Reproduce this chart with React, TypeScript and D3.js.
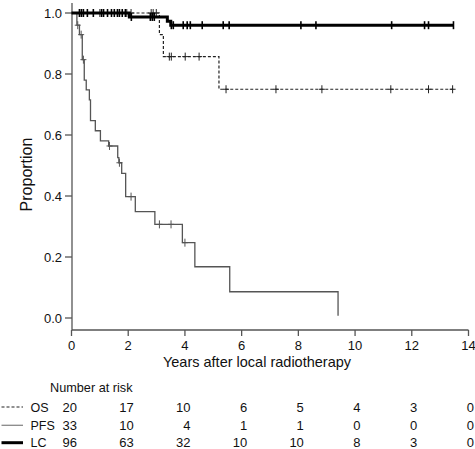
import React from "react";
import * as d3 from "d3";

// ---- data ----
const xTicks = [0, 2, 4, 6, 8, 10, 12, 14];
const yTicks = [0, 0.2, 0.4, 0.6, 0.8, 1.0];

const osTimes = [0, 3.1, 3.24, 5.2, 13.47];
const osSurv = [1, 0.929, 0.857, 0.75, 0.75];
const osCensor = [0.35, 1.0, 1.95, 2.1, 2.81, 2.88, 2.99, 3.45, 3.52, 4.01, 4.5, 5.45, 7.21, 8.83, 11.26, 12.59, 13.44];

const pfsTimes = [0, 0.19, 0.28, 0.38, 0.45, 0.52, 0.63, 0.67, 0.84, 1.02, 1.31, 1.63, 1.67, 1.77, 1.91, 2.25, 2.94, 3.91, 4.35, 5.58, 9.4];
const pfsSurv = [1, 0.96, 0.929, 0.847, 0.78, 0.748, 0.715, 0.647, 0.614, 0.581, 0.564, 0.526, 0.509, 0.474, 0.398, 0.349, 0.307, 0.247, 0.168, 0.086, 0.007];
const pfsCensor = [0.22, 0.34, 0.42, 1.34, 1.69, 2.1, 3.1, 3.51, 4.0];

const lcTimes = [0, 2.04, 3.38, 3.5, 13.47];
const lcSurv = [1, 0.987, 0.973, 0.96, 0.96];
const lcCensor = [0.28, 0.35, 0.42, 0.56, 0.77, 1.06, 1.13, 1.27, 1.41, 1.51, 1.62, 1.69, 1.79, 1.9, 2.11, 2.78, 2.85, 2.92, 3.52, 3.59, 3.94, 4.08, 4.19, 4.61, 5.35, 5.56, 8.09, 8.62, 11.29, 12.45, 12.59, 13.47];

const riskLabels = ["OS", "PFS", "LC"];
const riskOS = [20, 17, 10, 6, 5, 4, 3, 0];
const riskPFS = [33, 10, 4, 1, 1, 0, 0, 0];
const riskLC = [96, 63, 32, 10, 10, 8, 3, 0];

const FONT = "'Liberation Sans', Arial, Helvetica, sans-serif";

export default function App() {
  const x = d3.scaleLinear().domain([0, 14]).range([71.5, 468.5]);
  const y = d3.scaleLinear().domain([0, 1]).range([318, 13]);

  const stepLine = d3
    .line<[number, number]>()
    .x((d) => x(d[0]))
    .y((d) => y(d[1]))
    .curve(d3.curveStepAfter);

  const pts = (t: number[], s: number[]) => t.map((v, i) => [v, s[i]] as [number, number]);
  const survAt = (t: number[], s: number[], tc: number) => {
    const i = d3.bisectRight(t, tc) - 1;
    return s[Math.max(0, i)];
  };

  const axisColor = "#555";
  const series = [
    { name: "OS", times: osTimes, surv: osSurv, cens: osCensor, stroke: "#222", sample: "#222", width: 1.2, dash: "3,2", tickW: 1, arm: 1 },
    { name: "PFS", times: pfsTimes, surv: pfsSurv, cens: pfsCensor, stroke: "#555", sample: "#888", width: 1.3, dash: undefined, tickW: 1, arm: 1 },
    { name: "LC", times: lcTimes, surv: lcSurv, cens: lcCensor, stroke: "#000", sample: "#000", width: 3, dash: undefined, tickW: 1.6, arm: 0 },
  ];
  const riskRows = [riskOS, riskPFS, riskLC];
  const rowY = [407, 425.3, 442.7];

  return (
    <svg
      width={475}
      height={449}
      style={{ position: "absolute", left: 0, top: 0, background: "#fff" }}
      fontFamily={FONT}
    >
      {/* y axis */}
      <line x1={72} x2={72} y1={y(1.033)} y2={y(-0.04)} stroke={axisColor} strokeWidth={1.3} />
      {yTicks.map((t) => (
        <g key={"y" + t}>
          <line x1={65} x2={72} y1={y(t)} y2={y(t)} stroke={axisColor} strokeWidth={1.3} />
          <text x={62} y={y(t) + 4.7} textAnchor="end" fontSize={13} fill="#111">
            {d3.format(".1f")(t)}
          </text>
        </g>
      ))}
      <text transform={`translate(31.5,174.5) rotate(-90)`} textAnchor="middle" fontSize={16} fill="#111">
        Proportion
      </text>

      {/* x axis */}
      <line x1={72} x2={x(14)} y1={330} y2={330} stroke={axisColor} strokeWidth={1.3} />
      {xTicks.map((t) => (
        <g key={"x" + t}>
          <line x1={x(t)} x2={x(t)} y1={330} y2={336} stroke={axisColor} strokeWidth={1.3} />
          <text x={x(t)} y={350} textAnchor="middle" fontSize={13} fill="#111">
            {t}
          </text>
        </g>
      ))}
      <text x={257} y={367} textAnchor="middle" fontSize={14.5} fill="#111">
        Years after local radiotherapy
      </text>

      {/* curves */}
      {series.map((s) => (
        <g key={s.name}>
          <path
            d={stepLine(pts(s.times, s.surv)) || ""}
            fill="none"
            stroke={s.stroke}
            strokeWidth={s.width}
            strokeDasharray={s.dash}
          />
          {s.cens.map((c, i) => {
            const yy = y(survAt(s.times, s.surv, c));
            return (
              <g key={i}>
                <line x1={x(c)} x2={x(c)} y1={yy - 4} y2={yy + 4} stroke={s.stroke} strokeWidth={s.tickW} />
                {s.arm ? (
                  <line x1={x(c) - 3} x2={x(c) + 3} y1={yy} y2={yy} stroke={s.stroke} strokeWidth={1} />
                ) : null}
              </g>
            );
          })}
        </g>
      ))}

      {/* number at risk */}
      <text x={50} y={391.7} fontSize={12.7} fill="#111">
        Number at risk
      </text>
      {series.map((s, r) => (
        <g key={"r" + s.name}>
          <line x1={1.5} x2={23} y1={rowY[r]} y2={rowY[r]} stroke={s.sample} strokeWidth={s.width} strokeDasharray={s.dash} />
          <text x={30.5} y={rowY[r] + 4.6} fontSize={12.5} fill="#111">
            {riskLabels[r]}
          </text>
          {riskRows[r].map((v, i) => (
            <text key={i} x={x(xTicks[i]) + 5.5} y={rowY[r] + 4.6} textAnchor="end" fontSize={13} fill="#111">
              {v}
            </text>
          ))}
        </g>
      ))}
    </svg>
  );
}
